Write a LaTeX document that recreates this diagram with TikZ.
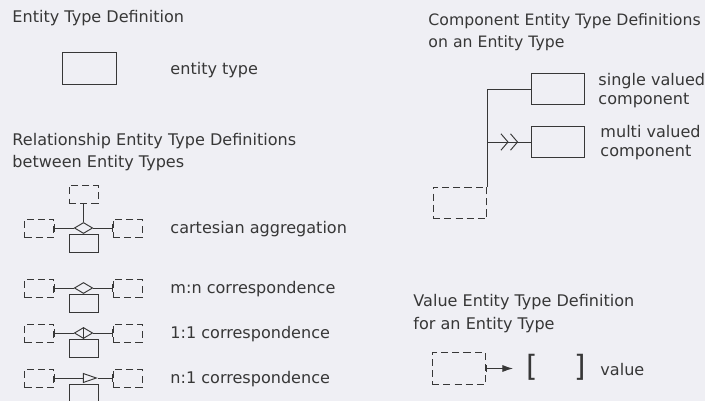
\documentclass[tikz,border=0pt]{standalone}
\usepackage{fontspec}
\setmainfont{DejaVu Sans}
\usepackage{tikz}
\usetikzlibrary{positioning, arrows.meta, shapes.geometric}
\usepackage{xcolor}
\definecolor{paper}{RGB}{239, 239, 244}
\definecolor{ink}{RGB}{55, 55, 55}

\begin{document}
\begin{tikzpicture}[x=0.03cm, y=-0.03cm, line width=0.8pt, color=ink,
  font=\fontsize{13.7}{19.6}\selectfont,
  lbl/.style={anchor=base west, inner sep=0pt, align=left},
  tight/.style={font=\fontsize{13.7}{17}\selectfont},
  ent/.style={draw, rectangle, inner sep=0pt, minimum width=0.87cm, minimum height=0.54cm},
  dent/.style={ent, dash pattern=on 6pt off 3.5pt},
  big/.style={minimum width=1.6cm, minimum height=0.95cm},
  reldia/.style={draw, diamond, inner sep=0pt, minimum width=0.55cm, minimum height=0.33cm, fill=paper},
  reltri/.style={draw, isosceles triangle, isosceles triangle stretches, inner sep=0pt,
    minimum width=0.27cm, minimum height=0.39cm, xshift=0.09cm, fill=paper}]

  \path[use as bounding box, fill=paper] (0,0) rectangle (705,401);

  % entity type
  \node[lbl] (hEnt) at (12,23) {Entity Type Definition};
  \node[ent, big] (ent) at (89.5,68.5) {};
  \node[lbl] (tEnt) at (170,75) {entity type};

  % relationship entity types: dashed entity types either side of the symbol
  \node[lbl] (hRel) at (12,168) {Relationship Entity Type Definitions\\between Entity Types};
  \foreach \y/\n/\sym/\lab in {228/ca/reldia/cartesian aggregation,
      288/mn/reldia/m:n correspondence, 333/oo/reldia/1:1 correspondence,
      378/no/reltri/n:1 correspondence} {
    \node[\sym] (s\n) at (83.5,\y) {};
    \node[ent, anchor=north] (e\n) at (83.5,\y+5.5) {};
    \node[dent] (l\n) at (39,\y) {};
    \node[dent] (r\n) at (127.5,\y) {};
    \draw[{Bar[width=6pt]}-] (l\n.east) -- (s\n.west);
    \draw[-{Bar[width=6pt]}] (s\n.east) -- (r\n.west);
    \node[lbl] (t\n) at (170,\y+5) {\lab};
  }
  % third operand of the aggregation, and the 1:1 bar
  \node[dent, above=0.54cm of sca] (tca) {};
  \draw (tca.south) -- (sca.north);
  \draw (soo.north) -- (soo.south);

  % component entity types
  \node[lbl, font=\fontsize{13.4}{19.6}\selectfont] (hComp) at (428,48)
    {Component Entity Type Definitions\\on an Entity Type};
  \node[dent, big] (own) at (460,203) {};
  \node[ent, big] (single) at (558,89) {};
  \node[ent, big] (multi) at (558,142) {};
  \coordinate (fork) at (own.north east |- multi.west);
  \coordinate[right=0.93cm of fork] (chev);
  \draw (own.north east) |- (single.west);
  \draw (fork) -- (multi.west);
  \draw[-{Straight Barb[length=6pt, width=14pt, sep=1.2pt] Straight Barb[length=6pt, width=14pt]}] (fork) -- (chev);
  \node[lbl, tight] (tSingle) at (598,105) {single valued\\component};
  \node[lbl, tight] (tMulti) at (600,157) {multi valued\\component};

  % value entity type
  \node[lbl] (hVal) at (413,329) {Value Entity Type Definition\\for an Entity Type};
  \node[dent, big] (vown) at (459,368.5) {};
  \node[anchor=base west, inner ysep=0pt, inner xsep=0.39cm,
    font=\fontsize{25}{25}\selectfont] (val) at (513,376) {[\hspace{31pt}]};
  \node[lbl] (tVal) at (600,375) {value};
  \draw[{Bar[width=6pt]}-{Latex[length=9pt, width=6pt]}] (vown.east) -- (vown.east -| val.west);
\end{tikzpicture}
\end{document}
